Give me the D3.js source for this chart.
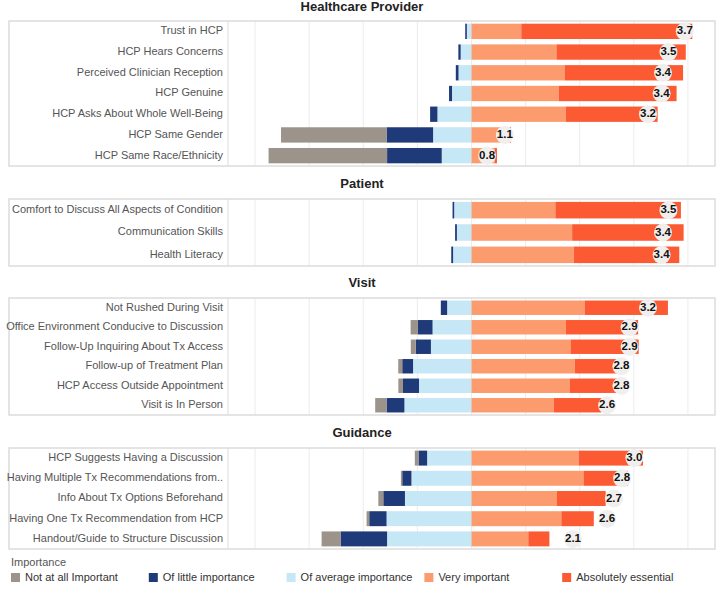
<!DOCTYPE html>
<html><head><meta charset="utf-8">
<script src="https://cdn.jsdelivr.net/npm/d3@7"></script>
<style>body{margin:0;background:#fff;font-family:"Liberation Sans",Arial,sans-serif}</style>
</head><body><svg id="c" width="719" height="592"></svg>
<script>
// ---- data ----
const sections = ["Healthcare Provider", "Patient", "Visit", "Guidance"];
const catHP = ["Trust in HCP","HCP Hears Concerns","Perceived Clinician Reception","HCP Genuine","HCP Asks About Whole Well-Being","HCP Same Gender","HCP Same Race/Ethnicity"];
const catPT = ["Comfort to Discuss All Aspects of Condition","Communication Skills","Health Literacy"];
const catVS = ["Not Rushed During Visit","Office Environment Conducive to Discussion","Follow-Up Inquiring About Tx Access","Follow-up of Treatment Plan","HCP Access Outside Appointment","Visit is In Person"];
const catGD = ["HCP Suggests Having a Discussion","Having Multiple Tx Recommendations from..","Info About Tx Options Beforehand","Having One Tx Recommendation from HCP","Handout/Guide to Structure Discussion"];
const categories = [catHP, catPT, catVS, catGD];
const levels = ["Not at all Important","Of little importance","Of average importance","Very important","Absolutely essential"];
// shares per level (same order as categories)
const notImportant = [[0,0,0,0,0,19.5,21.9],[0,0,0],[0,1.35,0.92,0.74,0.86,2.1],[0.68,0.25,0.92,0.49,3.5]];
const littleImp    = [[0.3,0.43,0.5,0.55,1.35,8.6,10.1],[0.3,0.33,0.34],[1.17,2.7,2.8,2.0,2.96,3.3],[1.6,1.7,4.0,3.2,8.6]];
const averageImp   = [[0.86,2.0,2.4,3.6,6.3,7.1,5.5],[3.2,2.7,3.4],[4.5,7.2,7.5,10.8,9.7,12.4],[8.2,11.1,12.3,15.7,15.6]];
const veryImp      = [[9.2,15.7,17.2,16.1,17.4,7.0,4.3],[15.5,18.6,18.9],[20.9,17.4,18.3,19.1,18.2,15.2],[19.8,20.7,15.8,16.6,10.5]];
const essential    = [[31.6,23.9,21.9,21.8,17.0,0.3,0.4],[23.2,20.6,19.5],[15.4,13.4,12.6,8.0,8.9,8.8],[11.9,8.2,9.0,6.0,3.9]];
const meanScore    = [[3.70,3.46,3.38,3.36,3.16,1.06,0.80],[3.46,3.38,3.36],[3.16,2.89,2.89,2.77,2.77,2.56],[2.96,2.78,2.66,2.56,2.06]];
const xTicks = [-40,-30,-20,-10,0,10,20,30,40];

// ---- layout ----
const colors = ["#9c948a","#1f3a78","#c6e7f5","#fc9b6d","#fc5a33"];
const layout = [
  {titleY: 8, top: 21, bottom: 166},
  {titleY: 185, top: 199, bottom: 266},
  {titleY: 284, top: 298, bottom: 415},
  {titleY: 434, top: 448, bottom: 549}
];
const svg = d3.select("#c");
const L = 9, R = 715, divX = 228;
const x = d3.scaleLinear().domain([-45,45]).range([divX, R]);
const meanX = d3.scaleLinear().domain([0,4]).range([x(-7.2), x(43.2)]);

sections.forEach((name, s) => {
  const lay = layout[s];
  const cats = categories[s];
  const g = svg.append("g");
  g.append("text").attr("x", (L+R)/2).attr("y", lay.titleY).attr("text-anchor","middle")
    .attr("dominant-baseline","middle").attr("font-weight","bold").attr("font-size", 13)
    .attr("fill","#222").text(name);
  // gridlines
  g.selectAll(".grid").data(xTicks).enter().append("line")
    .attr("x1", d=>x(d)).attr("x2", d=>x(d)).attr("y1", lay.top).attr("y2", lay.bottom)
    .attr("stroke","#ececec").attr("stroke-width",1);
  // panel frame
  g.append("rect").attr("x", L).attr("y", lay.top).attr("width", R-L).attr("height", lay.bottom-lay.top)
    .attr("fill","none").attr("stroke","#dcdcdc").attr("stroke-width",1.5);
  g.append("line").attr("x1",divX).attr("x2",divX).attr("y1",lay.top).attr("y2",lay.bottom)
    .attr("stroke","#dcdcdc").attr("stroke-width",1);
  const y = d3.scaleBand().domain(cats).range([lay.top, lay.bottom]).paddingInner(0.26).paddingOuter(0.13);
  const rows = cats.map((c,i) => ({
    cat: c,
    vals: [notImportant[s][i], littleImp[s][i], averageImp[s][i], veryImp[s][i], essential[s][i]],
    mean: meanScore[s][i]
  }));
  rows.forEach(r => {
    const segs = [];
    let acc = 0;
    [2,1,0].forEach(k => { segs.push({k, x0: -(acc + r.vals[k]), x1: -acc}); acc += r.vals[k]; });
    acc = 0;
    [3,4].forEach(k => { segs.push({k, x0: acc, x1: acc + r.vals[k]}); acc += r.vals[k]; });
    g.selectAll(null).data(segs.filter(d => d.x1 > d.x0)).enter().append("rect")
      .attr("x", d => x(d.x0)).attr("width", d => x(d.x1) - x(d.x0))
      .attr("y", y(r.cat)).attr("height", y.bandwidth()).attr("fill", d => colors[d.k]);
    g.append("text").attr("x", divX - 5).attr("y", y(r.cat) + y.bandwidth()/2)
      .attr("text-anchor","end").attr("dominant-baseline","middle").attr("font-size", 11)
      .attr("fill","#555").text(r.cat);
    const cx = meanX(r.mean), cy = y(r.cat) + y.bandwidth()/2;
    g.append("circle").attr("cx", cx).attr("cy", cy).attr("r", 9).attr("fill","#f1efed");
    g.append("text").attr("x", cx).attr("y", cy).attr("text-anchor","middle").attr("dominant-baseline","middle")
      .attr("font-size", 11.5).attr("font-weight","bold").attr("fill","#111").text(r.mean.toFixed(1));
  });
});

// legend
const lg = svg.append("g");
lg.append("text").attr("x", 11).attr("y", 563).attr("dominant-baseline","middle").attr("font-size", 11)
  .attr("fill","#555").text("Importance");
levels.forEach((lv, i) => {
  const lx = 11 + i*137.8;
  lg.append("rect").attr("x", lx).attr("y", 573).attr("width", 9).attr("height", 9).attr("fill", colors[i]);
  lg.append("text").attr("x", lx + 14).attr("y", 578).attr("dominant-baseline","middle").attr("font-size", 11)
    .attr("fill","#333").text(lv);
});
</script></body></html>
